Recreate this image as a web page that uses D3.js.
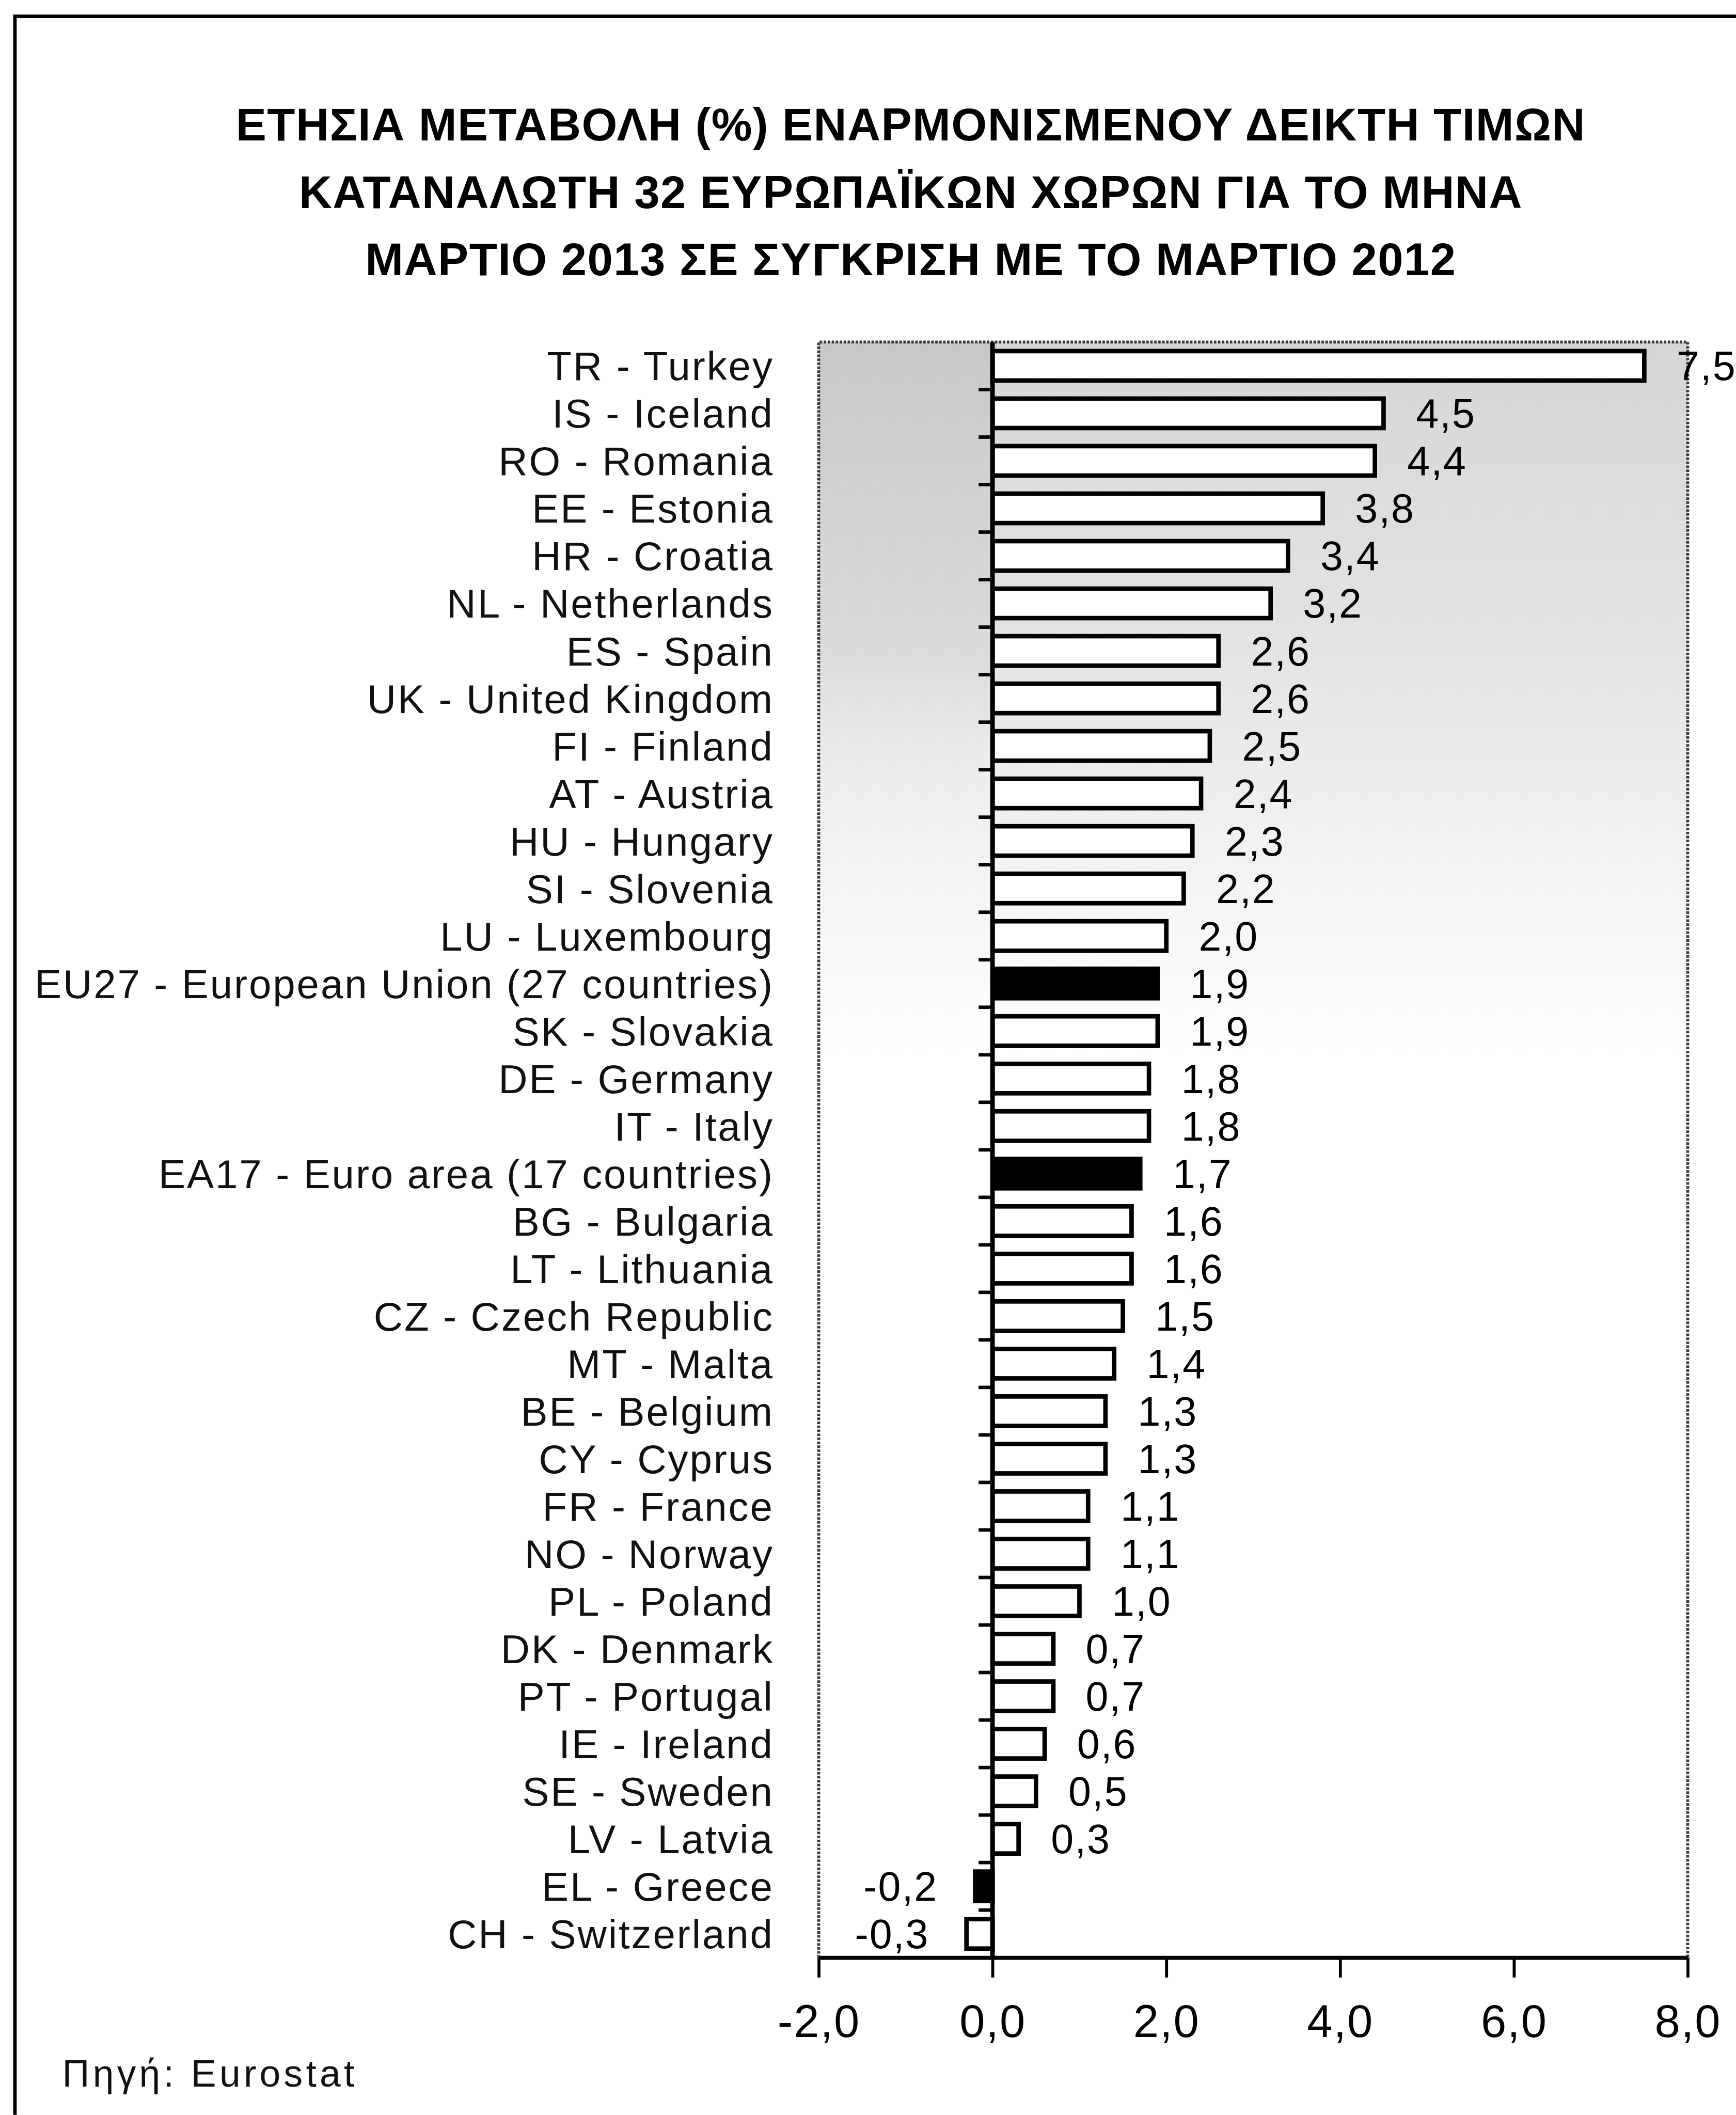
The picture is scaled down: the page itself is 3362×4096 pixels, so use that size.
<!DOCTYPE html>
<html>
<head>
<meta charset="utf-8">
<script src="https://cdn.jsdelivr.net/npm/d3@7"></script>
<style>
  body { margin: 0; background: #fff; }
  svg { display: block; }
  text { font-family: "Liberation Sans", Arial, sans-serif; }
</style>
</head>
<body>
<svg id="chart"></svg>
<script>
// data (HICP annual rate, March 2013)
var categories = [
  "TR - Turkey", "IS - Iceland", "RO - Romania", "EE - Estonia", "HR - Croatia",
  "NL - Netherlands", "ES - Spain", "UK - United Kingdom", "FI - Finland", "AT - Austria",
  "HU - Hungary", "SI - Slovenia", "LU - Luxembourg", "EU27 - European Union (27 countries)",
  "SK - Slovakia", "DE - Germany", "IT - Italy", "EA17 - Euro area (17 countries)",
  "BG - Bulgaria", "LT - Lithuania", "CZ - Czech Republic", "MT - Malta", "BE - Belgium",
  "CY - Cyprus", "FR - France", "NO - Norway", "PL - Poland", "DK - Denmark",
  "PT - Portugal", "IE - Ireland", "SE - Sweden", "LV - Latvia", "EL - Greece",
  "CH - Switzerland"
];
var values = [7.5, 4.5, 4.4, 3.8, 3.4, 3.2, 2.6, 2.6, 2.5, 2.4, 2.3, 2.2, 2.0, 1.9, 1.9,
  1.8, 1.8, 1.7, 1.6, 1.6, 1.5, 1.4, 1.3, 1.3, 1.1, 1.1, 1.0, 0.7, 0.7, 0.6, 0.5, 0.3,
  -0.2, -0.3];
var darkBars = ["EU27 - European Union (27 countries)", "EA17 - Euro area (17 countries)", "EL - Greece"];
var xTicks = [-2, 0, 2, 4, 6, 8];
var titleLines = [
  "ΕΤΗΣΙΑ ΜΕΤΑΒΟΛΗ (%) ΕΝΑΡΜΟΝΙΣΜΕΝΟΥ ΔΕΙΚΤΗ ΤΙΜΩΝ",
  "ΚΑΤΑΝΑΛΩΤΗ 32 ΕΥΡΩΠΑΪΚΩΝ ΧΩΡΩΝ ΓΙΑ ΤΟ ΜΗΝΑ",
  "ΜΑΡΤΙΟ 2013 ΣΕ ΣΥΓΚΡΙΣΗ ΜΕ ΤΟ ΜΑΡΤΙΟ 2012"
];
var sourceText = "Πηγή: Eurostat";

var data = categories.map((c, i) => ({name: c, value: values[i]}));

// drawn in reference units, the viewBox shrinks it to the window
var W = 3488, H = 4249;
var svg = d3.select("#chart")
  .attr("width", 3362)
  .attr("height", 4096)
  .attr("viewBox", "0 0 " + W + " " + H);

var plot = {left: 1645, right: 3391, top: 687, bottom: 3933};

var x = d3.scaleLinear().domain([-2, 8]).range([plot.left, plot.right]);
var y = d3.scaleBand()
  .domain(categories)
  .range([plot.top, plot.bottom])
  .paddingInner(0.38)
  .paddingOuter(0.19);

var fmt = v => v.toFixed(1).replace(".", ",");

// the scan has a grey halftone in the upper part of the plot
var defs = svg.append("defs");
var g1 = defs.append("linearGradient").attr("id", "bgFade")
  .attr("x1", 0).attr("y1", 0).attr("x2", 0).attr("y2", 1);
g1.append("stop").attr("offset", "0%").attr("stop-color", "#d6d6d6");
g1.append("stop").attr("offset", "18%").attr("stop-color", "#e3e3e3");
g1.append("stop").attr("offset", "34%").attr("stop-color", "#f5f5f5");
g1.append("stop").attr("offset", "44%").attr("stop-color", "#ffffff");
var g2 = defs.append("linearGradient").attr("id", "leftFade")
  .attr("x1", 0).attr("y1", 0).attr("x2", 0).attr("y2", 1);
g2.append("stop").attr("offset", "0%").attr("stop-color", "#bdbdbd").attr("stop-opacity", 0.55);
g2.append("stop").attr("offset", "20%").attr("stop-color", "#cccccc").attr("stop-opacity", 0.35);
g2.append("stop").attr("offset", "30%").attr("stop-color", "#ffffff").attr("stop-opacity", 0);

// outer frame (only top and left are inside the scan)
svg.append("path")
  .attr("d", "M30," + H + "V32.5H" + W)
  .attr("fill", "none")
  .attr("stroke", "#000")
  .attr("stroke-width", 7);

// title
svg.append("g").selectAll("text")
  .data(titleLines)
  .join("text")
  .attr("x", 1830)
  .attr("y", (d, i) => 282 + i * 135.5)
  .attr("text-anchor", "middle")
  .attr("font-size", 92)
  .attr("letter-spacing", 1.5)
  .attr("font-weight", "bold")
  .attr("fill", "#000")
  .text(d => d);

// plot area
svg.append("rect")
  .attr("x", plot.left).attr("y", plot.top)
  .attr("width", plot.right - plot.left)
  .attr("height", plot.bottom - plot.top)
  .attr("fill", "url(#bgFade)");
svg.append("rect")
  .attr("x", plot.left).attr("y", plot.top)
  .attr("width", x(0) - plot.left)
  .attr("height", plot.bottom - plot.top)
  .attr("fill", "url(#leftFade)");
svg.append("path")
  .attr("d", "M" + plot.left + "," + plot.bottom + "V" + plot.top + "H" + plot.right + "V" + plot.bottom)
  .attr("fill", "none")
  .attr("stroke", "#3a3a3a")
  .attr("stroke-width", 6)
  .attr("stroke-dasharray", "5,3");

// bars
svg.append("g").selectAll("rect")
  .data(data)
  .join("rect")
  .attr("x", d => x(Math.min(0, d.value)))
  .attr("y", d => y(d.name))
  .attr("width", d => Math.abs(x(d.value) - x(0)))
  .attr("height", y.bandwidth())
  .attr("fill", d => darkBars.includes(d.name) ? "#000" : "#fff")
  .attr("stroke", "#000")
  .attr("stroke-width", 9);

// value labels
svg.append("g").selectAll("text")
  .data(data)
  .join("text")
  .attr("x", d => d.value >= 0 ? x(d.value) + 65 : x(d.value) - 75)
  .attr("y", d => y(d.name) + y.bandwidth() / 2 + 29)
  .attr("text-anchor", d => d.value >= 0 ? "start" : "end")
  .attr("font-size", 82)
  .attr("letter-spacing", 2)
  .attr("fill", "#000")
  .text(d => fmt(d.value));

// category labels
svg.append("g").selectAll("text")
  .data(data)
  .join("text")
  .attr("x", 1555)
  .attr("y", d => y(d.name) + y.bandwidth() / 2 + 29)
  .attr("text-anchor", "end")
  .attr("font-size", 81)
  .attr("letter-spacing", 3)
  .attr("fill", "#111")
  .text(d => d.name);

// zero line with ticks between categories
var yAxis = svg.append("g");
yAxis.append("line")
  .attr("x1", x(0)).attr("x2", x(0))
  .attr("y1", plot.top).attr("y2", plot.bottom)
  .attr("stroke", "#000").attr("stroke-width", 9);
yAxis.selectAll("line.tick")
  .data(d3.range(1, categories.length))
  .join("line")
  .attr("class", "tick")
  .attr("x1", x(0) - 28).attr("x2", x(0))
  .attr("y1", i => plot.top + i * y.step())
  .attr("y2", i => plot.top + i * y.step())
  .attr("stroke", "#000").attr("stroke-width", 7);

// x axis
var xAxis = svg.append("g")
  .attr("transform", "translate(0," + plot.bottom + ")")
  .call(d3.axisBottom(x).tickValues(xTicks).tickFormat(fmt).tickSize(40).tickSizeOuter(0));
xAxis.select(".domain").attr("stroke", "#000").attr("stroke-width", 8);
xAxis.selectAll(".tick line").attr("stroke", "#000").attr("stroke-width", 6);
xAxis.selectAll(".tick text")
  .attr("y", 160).attr("dy", null)
  .attr("font-size", 92)
  .attr("letter-spacing", 2)
  .attr("fill", "#000");

// source
svg.append("text")
  .attr("x", 125)
  .attr("y", 4192)
  .attr("font-size", 76)
  .attr("letter-spacing", 6.5)
  .attr("fill", "#111")
  .text(sourceText);
</script>
</body>
</html>
